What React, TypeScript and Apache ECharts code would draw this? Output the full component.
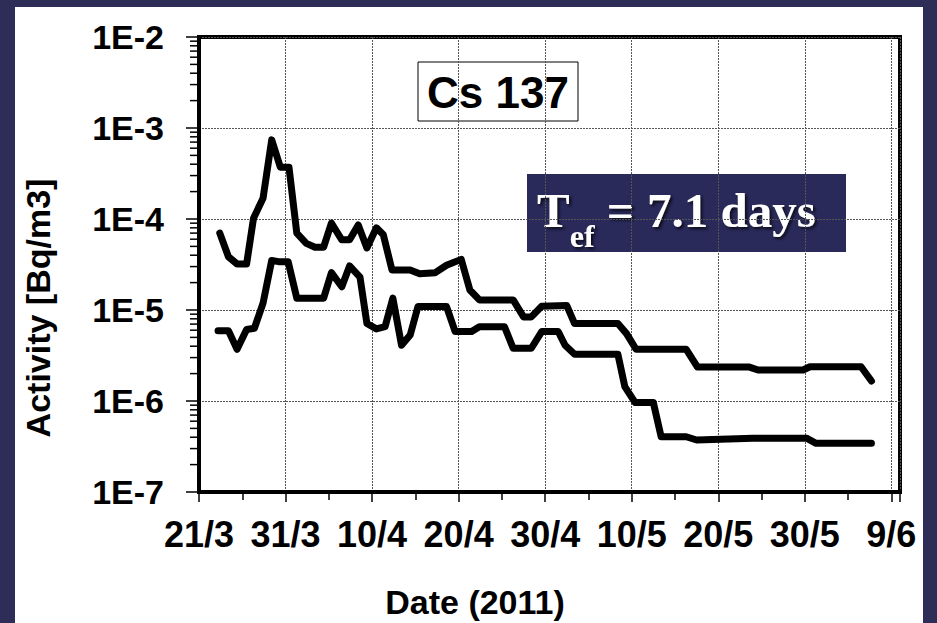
import React, { useEffect, useRef } from "react";
import * as echarts from "echarts";

// Day offsets counted from 21/3/2011
const xTickLabels = ["21/3", "31/3", "10/4", "20/4", "30/4", "10/5", "20/5", "30/5", "9/6"];
const yTickLabels = ["1E-7", "1E-6", "1E-5", "1E-4", "1E-3", "1E-2"];
const yMinorMultipliers = [2, 3, 4, 5, 6, 7, 8, 9];
const yDecades = [-7, -6, -5, -4, -3];

const upperDays = [2.4, 3.4, 4.4, 5.5, 6.3, 7.4, 8.4, 9.4, 10.4, 11.3, 12.4, 13.4, 14.4, 15.3, 16.5, 17.4, 18.4, 19.4, 20.5, 21.3, 22.3, 24.4, 25.5, 27.3, 28.6, 30.3, 31.3, 32.4, 36.3, 37.5, 38.4, 39.6, 42.5, 43.4, 48.4, 49.4, 50.5, 56.3, 57.6, 63.6, 64.6, 69.8, 70.6, 76.5, 77.7];
const upperValues = [7.0e-5, 3.85e-5, 3.2e-5, 3.2e-5, 1.02e-4, 1.69e-4, 7.4e-4, 3.7e-4, 3.7e-4, 7.0e-5, 5.4e-5, 4.9e-5, 4.9e-5, 9.0e-5, 5.9e-5, 5.9e-5, 8.6e-5, 4.8e-5, 8.0e-5, 6.7e-5, 2.75e-5, 2.75e-5, 2.5e-5, 2.57e-5, 3.1e-5, 3.6e-5, 1.66e-5, 1.29e-5, 1.29e-5, 8.4e-6, 8.4e-6, 1.1e-5, 1.12e-5, 7.1e-6, 7.1e-6, 5.5e-6, 3.7e-6, 3.7e-6, 2.36e-6, 2.36e-6, 2.19e-6, 2.19e-6, 2.38e-6, 2.38e-6, 1.66e-6];

const lowerDays = [2.2, 3.4, 4.4, 5.5, 6.4, 7.4, 8.4, 9.2, 10.3, 11.3, 14.4, 15.3, 16.5, 17.4, 18.6, 19.4, 20.5, 21.5, 22.4, 23.4, 24.4, 25.3, 28.6, 29.6, 31.5, 32.4, 35.3, 36.3, 38.4, 39.6, 41.5, 42.3, 43.4, 48.4, 49.2, 50.4, 52.5, 53.4, 56.3, 57.5, 64.0, 70.2, 71.3, 77.7];
const lowerValues = [5.9e-6, 5.9e-6, 3.7e-6, 6.1e-6, 6.3e-6, 1.19e-5, 3.5e-5, 3.4e-5, 3.4e-5, 1.35e-5, 1.35e-5, 2.57e-5, 1.8e-5, 3.05e-5, 2.3e-5, 7.1e-6, 6.2e-6, 6.55e-6, 1.35e-5, 4.1e-6, 5.3e-6, 1.09e-5, 1.09e-5, 5.8e-6, 5.8e-6, 6.55e-6, 6.55e-6, 3.8e-6, 3.8e-6, 5.8e-6, 5.8e-6, 4.1e-6, 3.26e-6, 3.26e-6, 1.44e-6, 9.6e-7, 9.6e-7, 4.05e-7, 4.05e-7, 3.73e-7, 3.9e-7, 3.9e-7, 3.43e-7, 3.43e-7];

const FONT = '"Liberation Sans", Arial, sans-serif';
const SERIF = '"Liberation Serif", "DejaVu Serif", serif';

export default function App() {
  const ref = useRef<HTMLDivElement>(null);

  useEffect(() => {
    if (!ref.current) return;
    const chart = echarts.init(ref.current, null, { renderer: "svg" });

    const minorTicks: number[][] = [];
    yDecades.forEach((e) => yMinorMultipliers.forEach((m) => minorTicks.push([0, m * Math.pow(10, e)])));

    const lineStyle = { color: "#000", width: 7, cap: "round", join: "round" };
    const shadow = {
      textShadowColor: "rgba(0,0,0,0.75)",
      textShadowBlur: 3,
      textShadowOffsetX: 2,
      textShadowOffsetY: 2,
    };

    const option: any = {
      animation: false,
      backgroundColor: "#2e2d57",
      grid: {
        left: 199,
        top: 37,
        right: 37,
        bottom: 131,
        show: true,
        borderColor: "#000",
        borderWidth: 4,
        backgroundColor: "transparent",
      },
      xAxis: {
        type: "value",
        min: 0,
        max: 81,
        interval: 10,
        axisLine: { show: true, onZero: false, lineStyle: { color: "#000", width: 4 } },
        axisTick: { show: true, length: 10, lineStyle: { color: "#000", width: 1.5 } },
        minorTick: { show: true, splitNumber: 2, length: 8, lineStyle: { color: "#000", width: 1.5 } },
        splitLine: { show: true, lineStyle: { color: "#555", width: 1, type: [2, 1] } },
        axisLabel: {
          showMaxLabel: false,
          margin: 24,
          color: "#000",
          fontSize: 36,
          fontWeight: "bold",
          fontFamily: FONT,
          formatter: (v: number) => (v % 10 === 0 ? xTickLabels[v / 10] ?? "" : ""),
        },
      },
      yAxis: {
        type: "log",
        logBase: 10,
        min: 1e-7,
        max: 1e-2,
        splitNumber: 5,
        axisLine: { show: true, lineStyle: { color: "#000", width: 4 } },
        axisTick: { show: true, length: 13, lineStyle: { color: "#000", width: 1.5 } },
        splitLine: { show: true, lineStyle: { color: "#555", width: 1, type: [2, 1] } },
        axisLabel: {
          margin: 35,
          color: "#000",
          fontSize: 34,
          fontWeight: "bold",
          fontFamily: FONT,
          formatter: (v: number) => yTickLabels[Math.round(Math.log10(v)) + 7] ?? "",
        },
      },
      series: [
        {
          type: "line",
          data: upperDays.map((d, i) => [d, upperValues[i]]),
          symbol: "none",
          lineStyle,
          z: 5,
        },
        {
          type: "line",
          data: lowerDays.map((d, i) => [d, lowerValues[i]]),
          symbol: "none",
          lineStyle,
          z: 5,
        },
        {
          type: "custom",
          data: minorTicks,
          clip: false,
          silent: true,
          renderItem: (_p: any, api: any) => {
            const pt = api.coord([0, api.value(1)]);
            return {
              type: "line",
              shape: { x1: pt[0] - 9, y1: pt[1], x2: pt[0], y2: pt[1] },
              style: { stroke: "#000", lineWidth: 1.5 },
            };
          },
        },
      ],
      graphic: [
        {
          type: "rect",
          z: -100,
          shape: { x: 15, y: 7, width: 908, height: 630 },
          style: { fill: "#ffffff" },
          silent: true,
        },
        {
          type: "text",
          x: 38,
          y: 308,
          rotation: Math.PI / 2,
          style: {
            text: "Activity [Bq/m3]",
            fontSize: 34,
            fontWeight: "bold",
            fontFamily: FONT,
            fill: "#000",
            align: "center",
            verticalAlign: "middle",
          },
        },
        {
          type: "text",
          x: 475,
          y: 602,
          style: {
            text: "Date (2011)",
            fontSize: 34,
            fontWeight: "bold",
            fontFamily: FONT,
            fill: "#000",
            align: "center",
            verticalAlign: "middle",
          },
        },
        {
          type: "group",
          z: 100,
          children: [
            {
              type: "rect",
              shape: { x: 418, y: 62, width: 160, height: 59 },
              style: { fill: "#fff", stroke: "#000", lineWidth: 1 },
            },
            {
              type: "text",
              x: 498,
              y: 92,
              style: {
                text: "Cs 137",
                fontSize: 44,
                fontWeight: "bold",
                fontFamily: FONT,
                fill: "#000",
                align: "center",
                verticalAlign: "middle",
              },
            },
          ],
        },
        {
          type: "group",
          z: 100,
          children: [
            {
              type: "rect",
              shape: { x: 527, y: 174, width: 319, height: 78 },
              style: { fill: "#29295a" },
            },
            {
              type: "text",
              x: 537,
              y: 168,
              style: {
                text: "{t|T}{s|ef}{t| = 7.1 days}",
                align: "left",
                verticalAlign: "top",
                fill: "#fff",
                fontFamily: SERIF,
                fontWeight: "bold",
                rich: {
                  t: {
                    fontSize: 49,
                    lineHeight: 84,
                    fontWeight: "bold",
                    fontFamily: SERIF,
                    fill: "#fff",
                    ...shadow,
                  },
                  s: {
                    fontSize: 32,
                    lineHeight: 8,
                    verticalAlign: "bottom",
                    fontWeight: "bold",
                    fontFamily: SERIF,
                    fill: "#fff",
                    ...shadow,
                  },
                },
              },
            },
          ],
        },
      ],
    };

    chart.setOption(option);
    return () => chart.dispose();
  }, []);

  return (
    <div
      ref={ref}
      style={{ position: "fixed", left: 0, top: 0, width: 937, height: 623 }}
    />
  );
}
